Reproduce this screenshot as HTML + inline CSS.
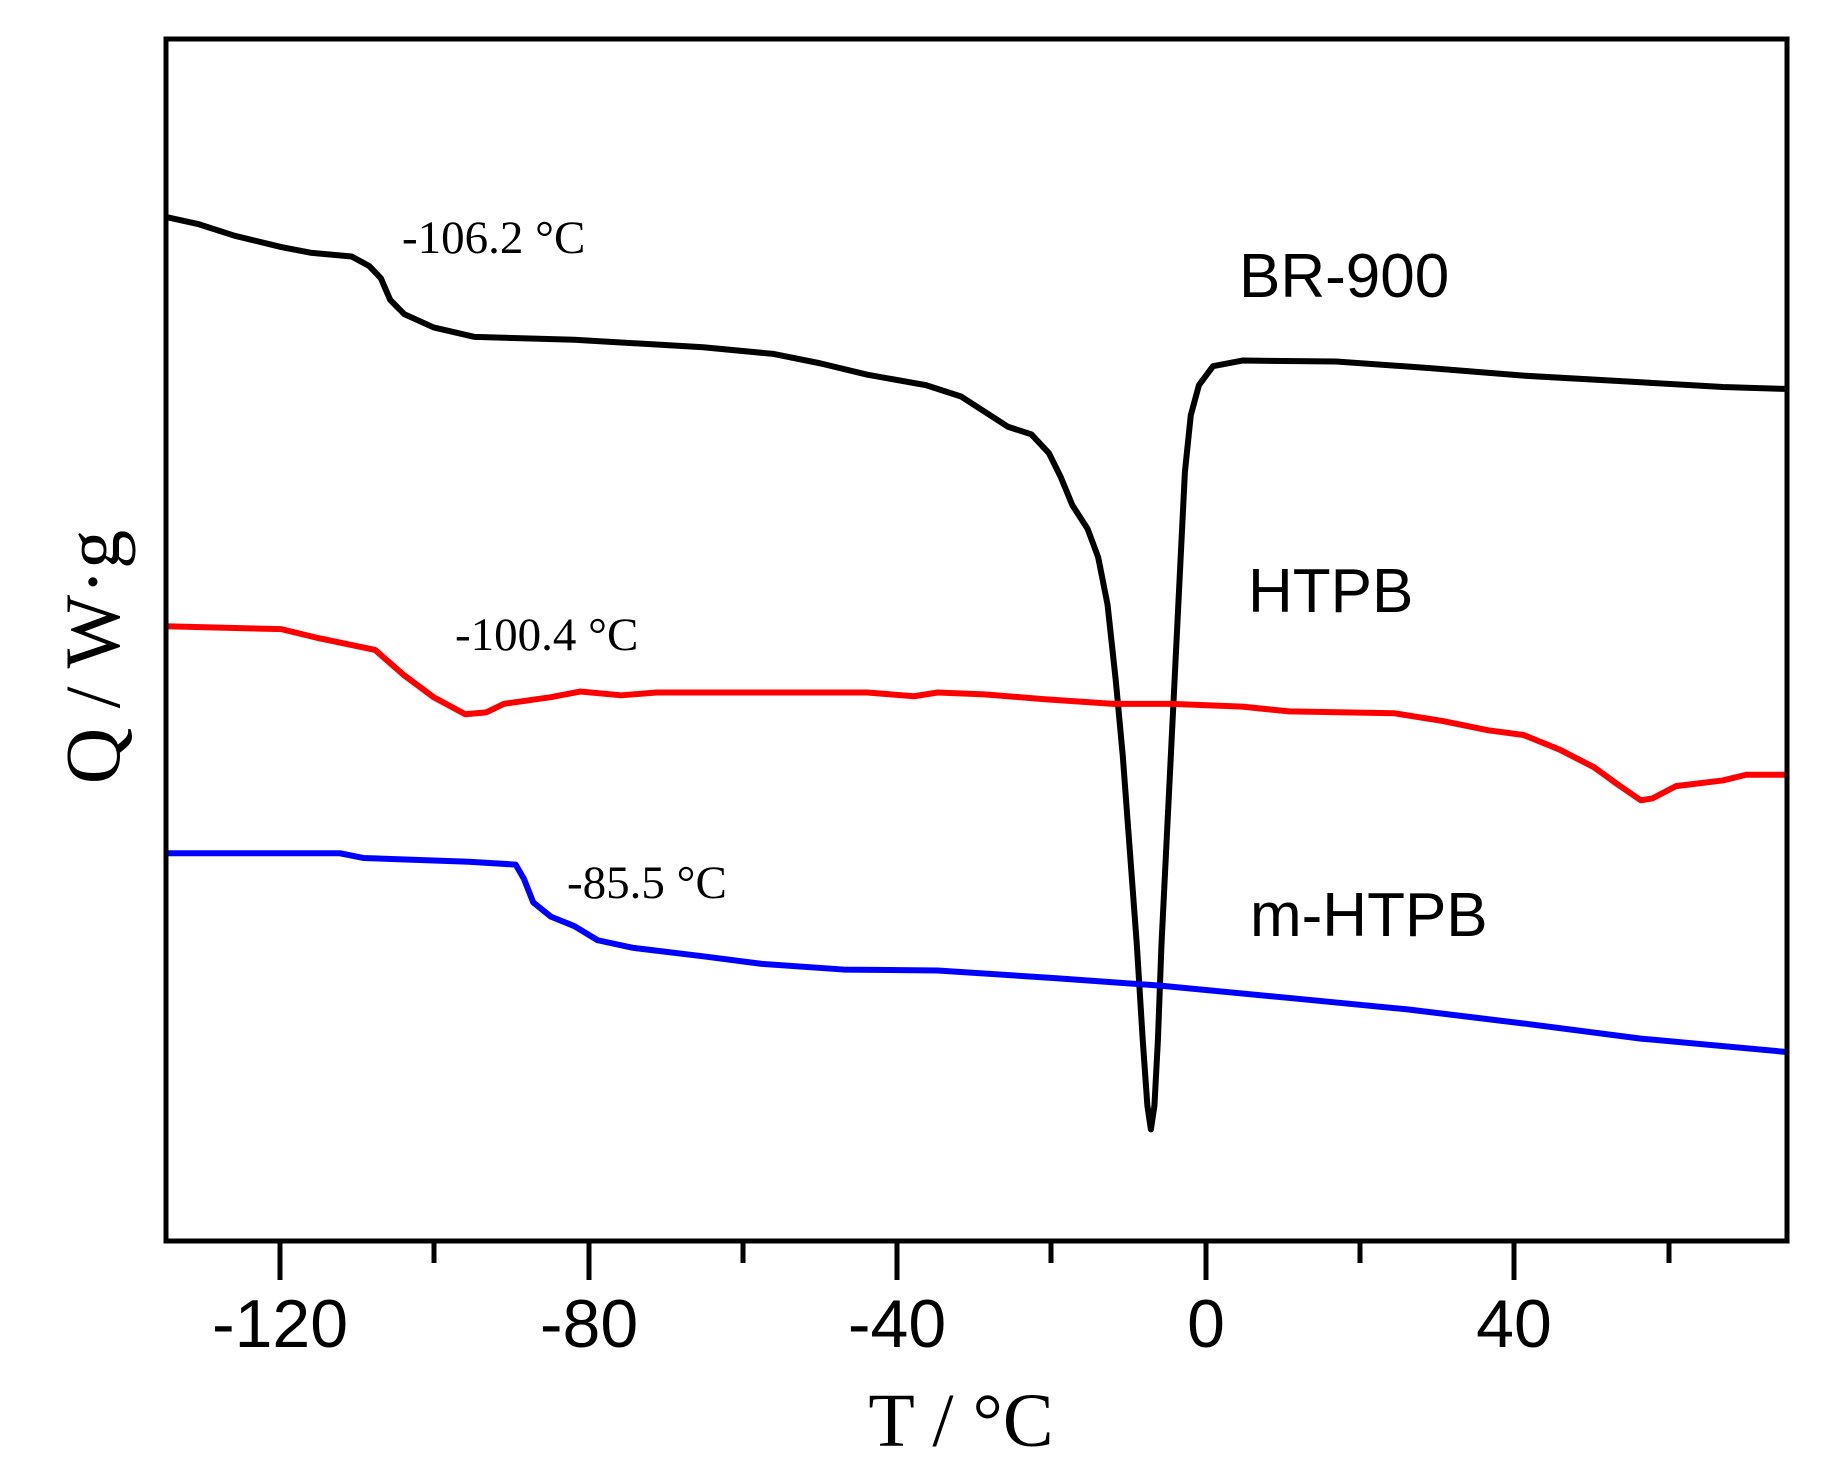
<!DOCTYPE html>
<html><head><meta charset="utf-8"><style>
html,body{margin:0;padding:0;background:#fff;}
svg{display:block;}
</style></head><body>
<svg width="1840" height="1481" viewBox="0 0 1840 1481" xmlns="http://www.w3.org/2000/svg">
<rect width="1840" height="1481" fill="#fff"/>
<g transform="matrix(1.172,0,0,0.9457,0,-0.72)" fill="none" stroke-linejoin="round">
<polyline vector-effect="non-scaling-stroke" stroke="#000" stroke-width="6" points="141,230 170,238 200,250 240,262 265,268 300,272 315,282 325,295 333,318 345,333 370,347 405,357 490,360 600,368 660,375 700,385 740,397 790,408 820,420 845,440 860,452 880,460 895,480 905,505 915,535 928,560 937,590 945,640 952,720 958,800 964,900 970,1000 975,1100 979,1170 982,1195 985,1170 988,1100 991,1000 995,900 999,800 1003,700 1007,600 1011,500 1016,440 1023,408 1035,388 1060,382 1140,383 1220,390 1300,398 1400,405 1470,410 1523,412"/>
<polyline vector-effect="non-scaling-stroke" stroke="#f00" stroke-width="6" points="141,663 240,666 270,675 320,688 345,715 370,738 397,756 415,754 430,745 470,738 495,732 530,736 560,733 740,733 780,737 800,733 840,735 890,740 950,745 1000,745 1060,748 1100,753 1190,755 1230,763 1270,773 1300,778 1330,793 1360,812 1380,830 1400,847 1410,845 1430,832 1470,826 1490,820 1523,820"/>
<polyline vector-effect="non-scaling-stroke" stroke="#00f" stroke-width="6" points="141,903 290,903 310,908 400,912 440,915 447,930 455,955 470,970 490,980 510,995 540,1003 600,1012 650,1020 720,1026 800,1027 900,1035 990,1043 1100,1056 1200,1068 1300,1083 1400,1099 1523,1113"/>
</g>
<rect x="166" y="39" width="1621" height="1202" fill="none" stroke="#000" stroke-width="5"/>
<g stroke="#000" stroke-width="5">
<line x1="280" y1="1241" x2="280" y2="1280"/>
<line x1="589" y1="1241" x2="589" y2="1280"/>
<line x1="897" y1="1241" x2="897" y2="1280"/>
<line x1="1206" y1="1241" x2="1206" y2="1280"/>
<line x1="1514" y1="1241" x2="1514" y2="1280"/>
<line x1="434" y1="1241" x2="434" y2="1263"/>
<line x1="743" y1="1241" x2="743" y2="1263"/>
<line x1="1051" y1="1241" x2="1051" y2="1263"/>
<line x1="1360" y1="1241" x2="1360" y2="1263"/>
<line x1="1669" y1="1241" x2="1669" y2="1263"/>
</g>
<g font-family="'Liberation Sans',sans-serif" font-size="68" text-anchor="middle" fill="#000">
<text x="280" y="1347">-120</text>
<text x="589" y="1347">-80</text>
<text x="897" y="1347">-40</text>
<text x="1206" y="1347">0</text>
<text x="1514" y="1347">40</text>
</g>
<g font-family="'Liberation Sans',sans-serif" font-size="62" fill="#000">
<text x="1239" y="297">BR-900</text>
<text x="1248" y="612">HTPB</text>
<text x="1250" y="936">m-HTPB</text>
</g>
<g font-family="'Liberation Serif',serif" font-size="47" fill="#000">
<text x="402" y="253">-106.2 °C</text>
<text x="455" y="650">-100.4 °C</text>
<text x="567" y="898">-85.5 °C</text>
</g>
<text x="961" y="1446" font-family="'Liberation Serif',serif" font-size="76" text-anchor="middle">T / °C</text>
<text transform="translate(119,657) rotate(-90)" font-family="'Liberation Serif',serif" font-size="78" text-anchor="middle">Q / W·g</text>
</svg>
</body></html>
